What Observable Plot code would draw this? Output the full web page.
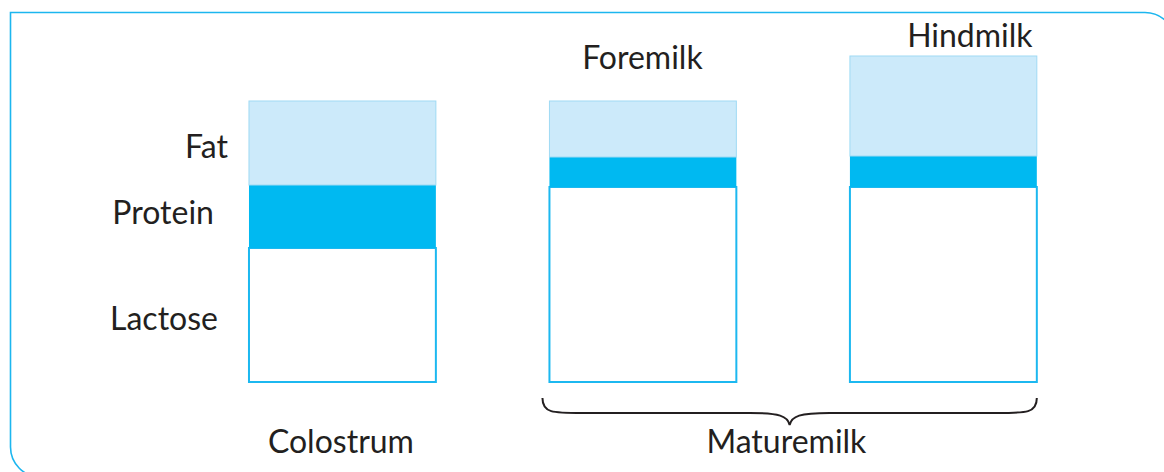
<!DOCTYPE html>
<html><head><meta charset="utf-8">
<script src="https://cdn.jsdelivr.net/npm/d3@7"></script>
<script src="https://cdn.jsdelivr.net/npm/@observablehq/plot@0.6"></script>
<style>html,body{margin:0;padding:0;background:#fff;overflow:hidden} #chart svg{display:block}</style>
</head><body><div id="chart"></div>
<script>
// ---- data (relative heights) ----
const milks = ["Colostrum", "Foremilk", "Hindmilk"];
const components = ["Lactose", "Protein", "Fat"];
const lactose = [134, 195, 195];
const protein = [63, 30, 31];
const fat = [84, 56, 100];
const groupLabel = "Maturemilk";
const groupMembers = ["Foremilk", "Hindmilk"];

// ---- styles ----
const fillOf = {Lactose: "#ffffff", Protein: "#00b9f1", Fat: "#cceafa"};
const strokeOf = {Lactose: "#1cb8f0", Protein: "none", Fat: "#9fdaf4"};
const strokeWOf = {Lactose: 2, Protein: 0, Fat: 1};
const ink = "#231f20";
const font = "Lato, 'Open Sans', sans-serif";
const fs = 32;

const values = {Lactose: lactose, Protein: protein, Fat: fat};
const rows = [];
milks.forEach((m, i) => components.forEach(c => rows.push({milk: m, component: c, value: values[c][i]})));
const totals = milks.map((m, i) => lactose[i] + protein[i] + fat[i]);

// segment midpoints for the Colostrum labels
const mids = {};
{
  let acc = 0;
  components.forEach(c => { const v = values[c][0]; mids[c] = acc + v / 2; acc += v; });
}
const labelNudge = {Fat: [-115, 4], Protein: [-129, -3], Lactose: [-125, 4]};

const marks = [
  Plot.barY(rows, {
    x: "milk", y: "value",
    fill: d => fillOf[d.component],
    stroke: d => strokeOf[d.component],
    strokeWidth: d => strokeWOf[d.component]
  }),
  // component labels beside first bar
  ...components.map(c => Plot.text([c], {
    x: () => milks[0], y: () => mids[c], text: d => d,
    textAnchor: "end", lineAnchor: "middle",
    dx: labelNudge[c][0], dy: labelNudge[c][1],
    fontSize: fs, fontFamily: font, fill: ink
  })),
  // category labels
  Plot.text([milks[0]], {x: d => d, y: () => 0, text: d => d, lineAnchor: "bottom", dy: 70, dx: -2, fontSize: fs, fontFamily: font, fill: ink}),
  Plot.text([milks[1]], {x: d => d, y: () => totals[1], text: d => d, lineAnchor: "bottom", dy: -33, dx: -1, fontSize: fs, fontFamily: font, fill: ink}),
  Plot.text([milks[2]], {x: d => d, y: () => totals[2], text: d => d, lineAnchor: "bottom", dy: -10, dx: 26, fontSize: fs, fontFamily: font, fill: ink}),
  Plot.text([groupLabel], {x: () => groupMembers[0], y: () => 0, text: d => d, lineAnchor: "bottom", dy: 70, dx: 143, fontSize: fs, fontFamily: font, fill: ink})
];

const plot = Plot.plot({
  width: 1164, height: 472,
  marginLeft: 135.4, marginRight: 13.6, marginTop: 12, marginBottom: 90,
  x: {domain: milks, padding: 0.378, axis: null, round: false},
  y: {domain: [0, 370], axis: null},
  color: {type: "identity"},
  style: {fontFamily: font, background: "#fff", overflow: "visible"},
  marks
});

// decorations: rounded frame and brace, placed via the plot's scales
const xs = plot.scale("x"), ys = plot.scale("y");
const svg = d3.select(plot);
const L = 10.5, T = 12.5, R = 1175, B = 477, r = 30;
svg.insert("path", ":first-child")
  .attr("d", `M${L},${T} H${R - r} A${r},${r} 0 0 1 ${R},${T + r} V${B} H${L + r} A${r},${r} 0 0 1 ${L},${B - r} Z`)
  .attr("fill", "none").attr("stroke", "#1cb6ef").attr("stroke-width", 1.6);

const bx0 = xs.apply(groupMembers[0]) - 7;
const bx1 = xs.apply(groupMembers[1]) + xs.bandwidth;
const base = ys.apply(0);
const yt = base + 16, ym = base + 31, yk = base + 43;
const cx = (bx0 + bx1) / 2;
svg.append("path")
  .attr("d", `M${bx0},${yt} C${bx0},${ym} ${bx0 + 10},${ym} ${bx0 + 40},${ym} L${cx - 40},${ym} C${cx - 10},${ym} ${cx - 2},${ym + 3} ${cx},${yk} C${cx + 2},${ym + 3} ${cx + 10},${ym} ${cx + 40},${ym} L${bx1 - 40},${ym} C${bx1 - 10},${ym} ${bx1},${ym} ${bx1},${yt}`)
  .attr("fill", "none").attr("stroke", ink).attr("stroke-width", 2);

document.getElementById("chart").appendChild(plot);
</script>
</body></html>
